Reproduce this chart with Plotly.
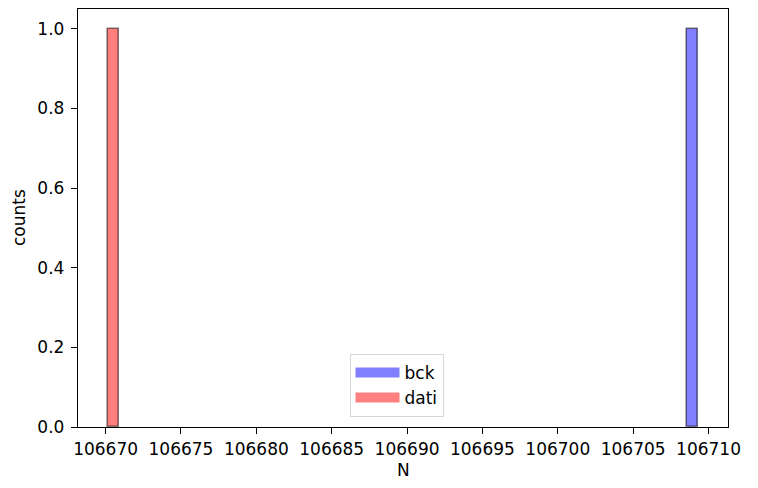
import numpy as np
import plotly.graph_objects as go

# Data
bck_N = [106709.33]
dati_N = [106670.13]
n_bins = 50
series_names = ["bck", "dati"]
fill_colors = ["rgba(0,0,255,0.5)", "rgba(255,0,0,0.5)"]
legend_colors = ["#8080ff", "#ff8080"]
x_label = "N"
y_label = "counts"

all_vals = np.array(bck_N + dati_N)
edges = np.linspace(all_vals.min(), all_vals.max(), n_bins + 1)
centers = 0.5 * (edges[:-1] + edges[1:])
width = edges[1] - edges[0]

fig = go.Figure()
for name, vals, col in zip(series_names, [bck_N, dati_N], fill_colors):
    counts, _ = np.histogram(vals, bins=edges)
    mask = counts > 0
    fig.add_trace(go.Bar(
        x=centers[mask], y=counts[mask], width=width,
        marker=dict(color=col, line=dict(color="rgba(0,0,0,0.5)", width=1.6)),
        name=name, showlegend=False,
    ))

# legend proxies (wide patches like matplotlib)
for name, col in zip(series_names, legend_colors):
    fig.add_trace(go.Scatter(
        x=[None], y=[None], mode="lines", name=name,
        line=dict(color=col, width=13),
    ))

span = all_vals.max() - all_vals.min()
xlo = all_vals.min() - 0.05 * span
xhi = all_vals.max() + 0.05 * span

FS = 17
axis_common = dict(
    showline=True, linecolor="black", linewidth=1.4, mirror=True,
    ticks="outside", ticklen=6, tickwidth=1.4, tickcolor="black",
    showgrid=False, zeroline=False, ticklabeloverflow="allow",
    tickfont=dict(family="DejaVu Sans", size=FS, color="black"),
)

# the page body adds an 8px offset, so the figure is 8px smaller each way
fig.update_layout(
    width=750, height=480,
    margin=dict(l=70, r=30, t=1, b=61),
    paper_bgcolor="white", plot_bgcolor="white",
    font=dict(family="DejaVu Sans", size=FS, color="black"),
    bargap=0,
    xaxis=dict(range=[xlo, xhi], tick0=106670, dtick=5, tickformat="d",
               automargin=False, **axis_common),
    yaxis=dict(range=[0, 1.05], tick0=0, dtick=0.2, tickformat=".1f",
               automargin=False, ticklabelstandoff=3, **axis_common),
    legend=dict(x=0.49, xanchor="center", y=0.024, yanchor="bottom",
                bgcolor="rgba(255,255,255,0.8)", bordercolor="#d6d6d6",
                borderwidth=1, font=dict(size=FS), tracegroupgap=2,
                itemwidth=44),
    annotations=[
        dict(text=x_label, xref="paper", yref="paper", x=0.5, y=0,
             xanchor="center", yanchor="middle", yshift=-43,
             showarrow=False, font=dict(size=FS)),
        dict(text=y_label, xref="paper", yref="paper", x=0, y=0.5,
             xanchor="center", yanchor="middle", xshift=-59, textangle=-90,
             showarrow=False, font=dict(size=FS)),
    ],
)

fig.write_html("out.html")
